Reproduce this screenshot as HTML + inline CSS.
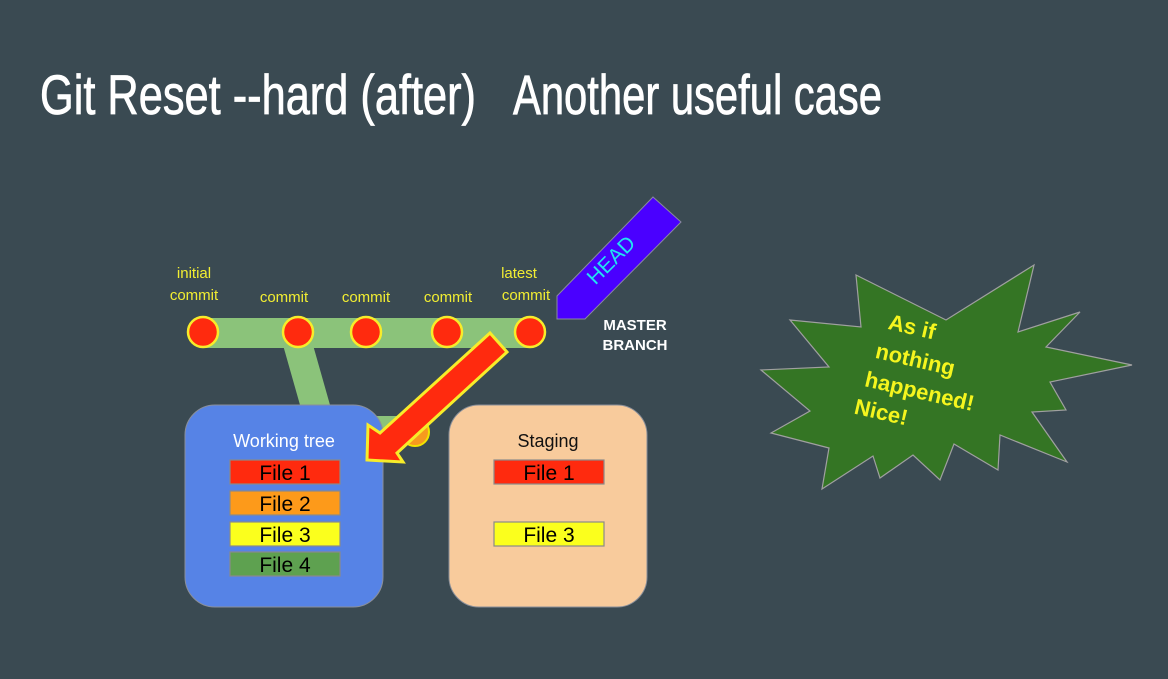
<!DOCTYPE html>
<html><head><meta charset="utf-8"><style>
html,body{margin:0;padding:0;background:#3a4a52;}
svg{display:block}
text{font-family:"Liberation Sans",Arial,sans-serif}
.t{font-family:"Liberation Sans Narrow","Liberation Sans",sans-serif}
</style></head><body>
<svg width="1168" height="679" viewBox="0 0 1168 679" xmlns="http://www.w3.org/2000/svg">
<rect width="1168" height="679" fill="#3a4a52"/>
<text class="t" x="40" y="114" font-size="56" fill="#ffffff" textLength="436" lengthAdjust="spacingAndGlyphs" stroke="#ffffff" stroke-width="0.8">Git Reset --hard (after)</text>
<text class="t" x="513" y="114" font-size="56" fill="#ffffff" textLength="369" lengthAdjust="spacingAndGlyphs" stroke="#ffffff" stroke-width="0.8">Another useful case</text>

<!-- pipeline -->
<rect x="203" y="318" width="327" height="30" fill="#8bc37a"/>
<polygon points="283,345 313,345 332,412 302,412" fill="#8bc37a"/>
<rect x="370" y="416" width="45" height="22" fill="#8bc37a"/>
<circle cx="415" cy="432" r="14" fill="#f79a1e" stroke="#f2e300" stroke-width="2"/>

<g fill="#ff2a0e" stroke="#f7ec2a" stroke-width="2.5">
<circle cx="203" cy="332" r="15"/>
<circle cx="298" cy="332" r="15"/>
<circle cx="366" cy="332" r="15"/>
<circle cx="447" cy="332" r="15"/>
<circle cx="530" cy="332" r="15"/>
</g>
<g fill="#f2ee32" font-size="15" text-anchor="middle">
<text x="194" y="278">initial</text>
<text x="194" y="300">commit</text>
<text x="284" y="302">commit</text>
<text x="366" y="302">commit</text>
<text x="448" y="302">commit</text>
<text x="519" y="278">latest</text>
<text x="526" y="300">commit</text>
</g>

<!-- HEAD -->
<polygon points="653,197 681,222 585,319 557,319 557,296" fill="#4a00ff" stroke="#8a8aa0" stroke-width="1"/>
<text x="0" y="0" transform="translate(616,265) rotate(-45)" fill="#22e3f0" font-size="21" text-anchor="middle">HEAD</text>
<g fill="#ffffff" font-size="15" font-weight="bold" text-anchor="middle">
<text x="635" y="330">MASTER</text>
<text x="635" y="350">BRANCH</text>
</g>

<!-- boxes -->
<rect x="185" y="405" width="198" height="202" rx="30" fill="#5683e6" stroke="#8a8f99" stroke-width="1"/>
<rect x="449" y="405" width="198" height="202" rx="30" fill="#f8cb9c" stroke="#8a8f99" stroke-width="1"/>
<text x="284" y="447" fill="#ffffff" font-size="18" text-anchor="middle">Working tree</text>
<text x="548" y="447" fill="#111" font-size="18" text-anchor="middle">Staging</text>
<g stroke="#8a8a8a" stroke-width="1.2">
<rect x="230" y="460" width="110" height="24" fill="#ff2a0e"/>
<rect x="230" y="491" width="110" height="24" fill="#fd9a1a"/>
<rect x="230" y="522" width="110" height="24" fill="#fbff1d"/>
<rect x="230" y="552" width="110" height="24" fill="#5ea150"/>
<rect x="494" y="460" width="110" height="24" fill="#ff2a0e"/>
<rect x="494" y="522" width="110" height="24" fill="#fbff1d"/>
</g>
<g fill="#000" font-size="21" text-anchor="middle">
<text x="285" y="480">File 1</text>
<text x="285" y="511">File 2</text>
<text x="285" y="542">File 3</text>
<text x="285" y="572">File 4</text>
<text x="549" y="480">File 1</text>
<text x="549" y="542">File 3</text>
</g>

<!-- big arrow -->
<polygon points="490,333 507,352 397,453 403,462 367,460 368,425 380,433" fill="#ff2a0e" stroke="#f7ec2a" stroke-width="3" stroke-linejoin="miter"/>

<!-- star -->
<polygon points="856,275 946,320 1034,265 1018,332 1080,312 1046,347 1132,365 1050,382 1066,410 1032,412 1067,462 1000,435 998,470 954,444 940,480 913,455 880,478 873,456 822,489 829,448 771,433 810,411 761,370 829,367 790,320 861,327" fill="#347524" stroke="#a0a0a0" stroke-width="1.2"/>
<g fill="#f5f51e" font-size="22" font-weight="bold" transform="rotate(13 900 380)">
<text x="876" y="333">As if</text>
<text x="870" y="364">nothing</text>
<text x="866" y="394">happened!</text>
<text x="862" y="423">Nice!</text>
</g>
</svg>
</body></html>
